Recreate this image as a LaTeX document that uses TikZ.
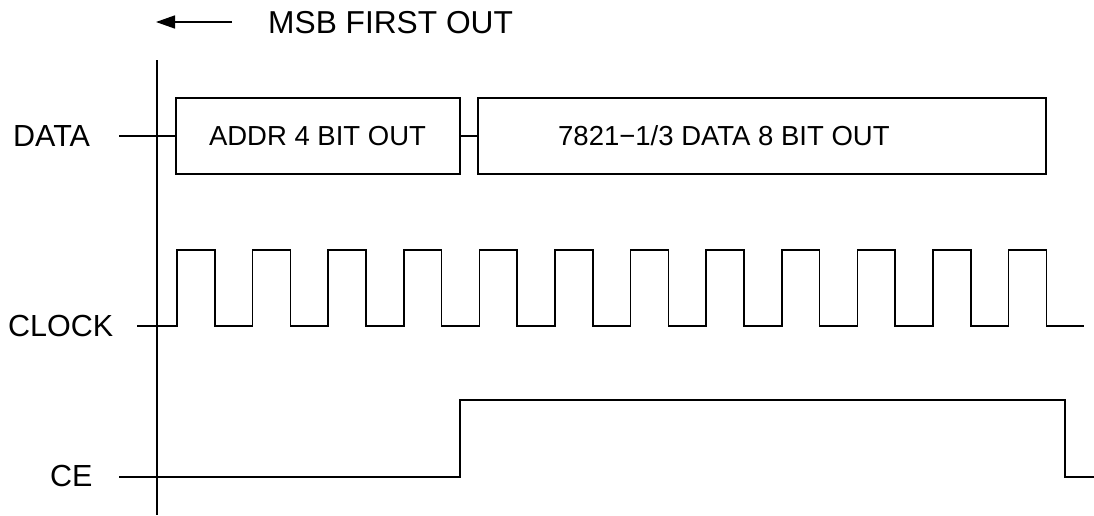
\documentclass[tikz,border=0pt]{standalone}
\usepackage{fontspec}
\setmainfont{Liberation Sans}
\usetikzlibrary{arrows.meta}
\begin{document}
\begin{tikzpicture}[x=1pt,y=-1pt,
  sig/.style={line width=1.7pt,line join=miter},
  cesig/.style={line width=2.2pt,line join=miter},
  lbl/.style={inner sep=0pt,anchor=base west,font=\fontsize{30.5}{36}\selectfont},
  toplbl/.style={inner sep=0pt,anchor=base west,font=\fontsize{31.7}{38}\selectfont},
  boxlbl/.style={inner sep=0pt,font=\fontsize{27.5}{33}\selectfont},
  databox/.style={draw,line width=1.7pt,inner sep=0pt,minimum height=76pt}]
\useasboundingbox (0,0) rectangle (1094,515);
\fill[white] (0,0) rectangle (1094,515);
% top arrow
\coordinate (arrS) at (232,22);
\coordinate (arrE) at (156,22);
\draw[line width=1.5pt,-{Triangle[length=19pt,width=13pt]}] (arrS) -- (arrE);
\node[toplbl] (msb) at (268,33) {MSB FIRST OUT};
% vertical reference line
\coordinate (vtop) at (157,60);
\coordinate (vbot) at (157,515);
\draw[sig] (vtop) -- (vbot);
% labels
\node[lbl] (ldata) at (13,146) {DATA};
\node[lbl] (lclk) at (8,336) {CLOCK};
\node[lbl] (lce) at (50,486) {CE};
% data boxes
\node[databox,minimum width=284pt] (b1) at (318,136) {};
\node[databox,minimum width=568pt] (b2) at (762,136) {};
\node[boxlbl,anchor=base] (t1) at (317.5,145) {ADDR 4 BIT OUT};
\node[boxlbl,anchor=base west] (t2) at (558,145) {7821\char"2212 1/3 DATA 8 BIT OUT};
\coordinate (dstart) at (119,136);
\draw[sig] (dstart) -- (b1.west);
\draw[sig] (b1.east) -- (b2.west);
% clock
\coordinate (cstart) at (137,326);
\coordinate (cend) at (1084,326);
\draw[sig] (cstart) -- (177,326)
  foreach \k in {0,...,11}{
    -- ({177+75.6*\k},326) -- ({177+75.6*\k},250)
    -- ({214.8+75.6*\k},250) -- ({214.8+75.6*\k},326)}
  -- (cend);
% CE
\coordinate (cestart) at (119,477);
\coordinate (ceend) at (1094,477);
\draw[cesig] (cestart) -- (460,477) -- (460,400) -- (1065,400) -- (1065,477) -- (ceend);
\end{tikzpicture}
\end{document}
